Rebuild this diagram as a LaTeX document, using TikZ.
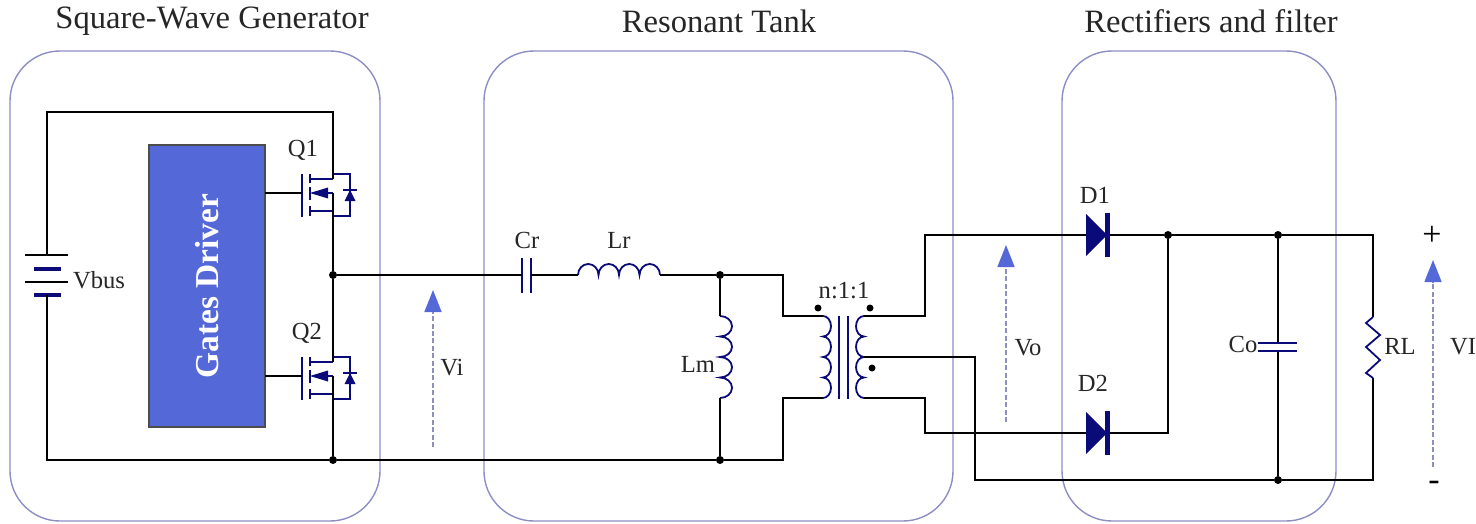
\documentclass[tikz,border=0pt]{standalone}
\usepackage{fontspec}
\setmainfont{Liberation Serif}
\usetikzlibrary{arrows.meta}

\definecolor{navy}{HTML}{0A0A78}
\definecolor{fence}{HTML}{8C8EC4}
\definecolor{drive}{HTML}{5468D8}

\tikzset{
    mosfet/.pic={
        \draw[navy,line width=1.3pt] (-31,-19) -- (-31,24);
        \draw[navy,line width=1.3pt] (-23,-19) -- (-23,-10) (-23,-6) -- (-23,7) (-23,13) -- (-23,23);
        \draw[navy,line width=1.2pt] (-23,-14) -- (0,-14) (-23,18) -- (0,18);
        \draw[navy,line width=1.2pt] (0,0) -- (-8,0);
        \fill[navy] (-23,0) -- (-5,-5.5) -- (-5,5.5) -- cycle;
        \draw[navy,line width=1.2pt] (0,-19) -- (17,-19) -- (17,23) -- (0,23);
        \draw[navy,line width=1.2pt] (10,-3) -- (24,-3);
        \fill[navy] (17,-3) -- (11.5,8) -- (22.5,8) -- cycle;
        \draw[line width=1.3pt] (0,-19) -- (0,-14) (0,0) -- (0,23);
        \coordinate (-d) at (0,-19);
        \coordinate (-s) at (0,23);
        \coordinate (-g) at (-31,0);
    },
    rectdiode/.pic={
        \fill[navy] (0,-21) -- (21,0) -- (0,21) -- cycle;
        \fill[navy] (19,-22) rectangle (24,22);
        \coordinate (-a) at (0,0);
        \coordinate (-c) at (24,0);
    },
}

\begin{document}
\begin{tikzpicture}[x=0.5pt,y=-0.5pt,
    every node/.style={inner sep=0pt,outer sep=0pt},
    wire/.style={line width=1.3pt,black},
    part/.style={line width=0.9pt,navy},
    plate/.style={line width=1.3pt,navy},
    fencebox/.style={draw=fence,line width=0.7pt,rounded corners=25pt},
    sense/.style={draw=fence,line width=0.8pt,dash pattern=on 2.5pt off 1.2pt,-{Triangle[length=11pt,width=8.5pt,color=drive]}},
    junction/.style={circle,fill=black,minimum size=4pt},
    dotmark/.style={circle,fill=black,minimum size=3.5pt},
    lbl/.style={font=\fontsize{12.3}{14}\selectfont,text=black!85},
    sign/.style={font=\fontsize{17}{18}\selectfont,text=black},
    heading/.style={font=\fontsize{16.3}{18}\selectfont,text=black!85}]
    \useasboundingbox (0,0) rectangle (1476,524);

    % boxes
    \draw[fencebox] (10,51) rectangle (380,521);
    \draw[fencebox] (484,51) rectangle (953,521);
    \draw[fencebox] (1062,51) rectangle (1336,521);
    \node[heading] (generator) at (212,21) {Square-Wave Generator};
    \node[heading] (tank) at (719,21) {Resonant Tank};
    \node[heading] (filter) at (1211,21) {Rectifiers and filter};

    % generator
    \node[rotate=90,draw=black!70,fill=drive,line width=0.7pt,minimum width=141pt,minimum height=58pt,
          text=white,font=\fontsize{16.7}{18}\bfseries\selectfont] (driver) at (207,286) {Gates Driver};
    \pic (Q1) at (333,193) {mosfet};
    \pic (Q2) at (333,376) {mosfet};
    \node[lbl] (q1label) at (303,150) {Q1};
    \node[lbl] (q2label) at (307,333) {Q2};
    \node[lbl,anchor=west] (vbus) at (73,280) {Vbus};
    \coordinate (bustop) at (47,255);
    \coordinate (busbot) at (47,295);
    \coordinate (topleft) at (47,112);
    \coordinate (botleft) at (47,460);
    \draw[wire] (25,255) -- (68,255) (25,282) -- (68,282);
    \draw[navy,line width=2pt] (34,269) -- (61,269) (34,295) -- (61,295);
    \node[junction] (mid) at (333,275) {};
    \node[junction] (botsw) at (333,460) {};
    \draw[wire] (bustop) -- (topleft) -| (Q1-d);
    \draw[wire] (busbot) -- (botleft) -- (botsw);
    \draw[wire] (Q1-s) -- (mid) -- (Q2-d);
    \draw[wire] (Q2-s) -- (botsw);
    \draw[wire] (driver.south |- Q1-g) -- (Q1-g);
    \draw[wire] (driver.south |- Q2-g) -- (Q2-g);

    % tank
    \coordinate (cr1) at (522,275);
    \coordinate (cr2) at (531,275);
    \coordinate (lr1) at (578,275);
    \coordinate (lr2) at (660,275);
    \coordinate (lm1) at (720,316);
    \coordinate (lm2) at (720,398);
    \coordinate (bend1) at (783,316);
    \coordinate (bend2) at (783,398);
    \coordinate (pri1) at (823,316);
    \coordinate (pri2) at (823,398);
    \node[junction] (topm) at (720,275) {};
    \node[junction] (botm) at (720,460) {};
    \draw[plate] (522,258) -- (522,293) (531,258) -- (531,293);
    \draw[part] (lr1) \foreach \i in {1,...,4} {arc[start angle=180,end angle=360,x radius=10.25,y radius=11]};
    \draw[part] (lm1) \foreach \i in {1,...,4} {arc[start angle=-90,end angle=90,x radius=12,y radius=10.25]};
    \draw[part] (pri1) \foreach \i in {1,...,4} {arc[start angle=-90,end angle=90,x radius=8,y radius=10.25]};
    \draw[wire] (mid) -- (cr1);
    \draw[wire] (cr2) -- (lr1);
    \draw[wire] (lr2) -- (topm) -- (lm1);
    \draw[wire] (lm2) -- (botm);
    \draw[wire] (botsw) -- (botm) -| (bend2) -- (pri2);
    \draw[wire] (topm) -| (bend1) -- (pri1);
    \node[lbl] (crlabel) at (527,240) {Cr};
    \node[lbl] (lrlabel) at (619,240) {Lr};
    \node[lbl] (lmlabel) at (698,364) {Lm};

    % transformer
    \coordinate (sec1) at (864,316);
    \coordinate (sec2) at (864,398);
    \coordinate (tap) at (864,357);
    \draw[plate] (839,316) -- (839,399) (848,316) -- (848,399);
    \draw[part] (sec1) \foreach \i in {1,...,4} {arc[start angle=270,end angle=90,x radius=8,y radius=10.25]};
    \node[dotmark] (dot1) at (818,308) {};
    \node[dotmark] (dot2) at (870,308) {};
    \node[dotmark] (dot3) at (872,368) {};
    \node[lbl] (ratio) at (844,291) {n:1:1};

    % rectifiers
    \pic (D1) at (1086,235) {rectdiode};
    \pic (D2) at (1086,433) {rectdiode};
    \node[lbl] (d1label) at (1095,195) {D1};
    \node[lbl] (d2label) at (1093,383) {D2};
    \node[junction] (topd) at (1168,235) {};
    \node[junction] (topc) at (1278,235) {};
    \node[junction] (botc) at (1278,480) {};
    \coordinate (co1) at (1278,343);
    \coordinate (co2) at (1278,351);
    \coordinate (rl1) at (1373,317);
    \coordinate (rl2) at (1373,378);
    \draw[wire] (sec1) -- (925,316) |- (D1-a);
    \draw[wire] (sec2) -- (925,398) |- (D2-a);
    \draw[wire] (D1-c) -- (topd) -- (topc) -| (rl1);
    \draw[wire] (D2-c) -| (topd);
    \draw[wire] (tap) -- (975,357) |- (botc);
    \draw[wire] (botc) -| (rl2);
    \draw[wire] (topc) -- (co1);
    \draw[wire] (co2) -- (botc);
    \draw[plate] (1258,343) -- (1297,343) (1258,351) -- (1297,351);
    \draw[part] (rl1) -- (1366,323) -- (1380,335) -- (1366,347) -- (1380,360) -- (1366,373) -- (rl2);
    \node[lbl] (colabel) at (1243,344) {Co};
    \node[lbl] (rllabel) at (1400,346) {RL};

    % voltages
    \coordinate (vi1) at (433,447);
    \coordinate (vi2) at (433,290);
    \coordinate (vo1) at (1006,422);
    \coordinate (vo2) at (1006,245);
    \coordinate (vl1) at (1433,467);
    \coordinate (vl2) at (1433,260);
    \draw[sense] (vi1) -- (vi2);
    \draw[sense] (vo1) -- (vo2);
    \draw[sense] (vl1) -- (vl2);
    \node[lbl] (vilabel) at (452,368) {Vi};
    \node[lbl] (volabel) at (1028,348) {Vo};
    \node[lbl,anchor=west] (vllabel) at (1450,347) {VI};
    \node[sign] (plus) at (1432,236) {+};
    \node[sign] (minus) at (1434,486) {-};
\end{tikzpicture}
\end{document}
